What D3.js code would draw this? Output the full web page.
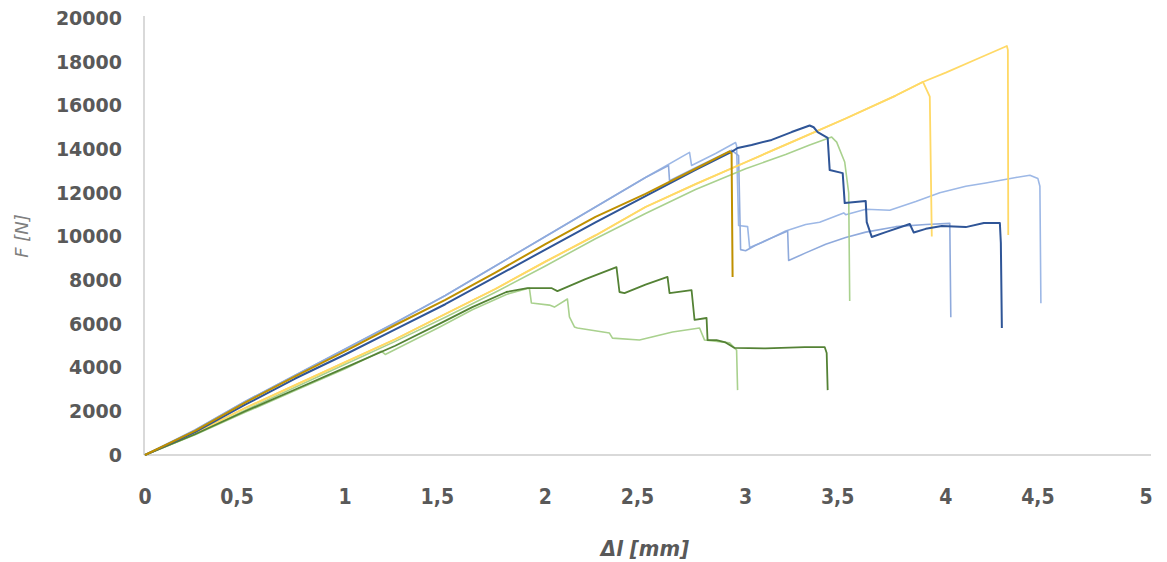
<!DOCTYPE html>
<meta charset="utf-8">
<html>
<script src="https://d3js.org/d3.v7.min.js"></script>
<style>
    body { margin: 0; background: #fff; }
    .ytick { font-family: "DejaVu Sans", sans-serif; font-weight: bold; font-size: 19px; fill: #595959; }
    .xtick { font-family: "Liberation Sans Narrow", "DejaVu Sans Condensed", sans-serif; font-weight: bold; font-size: 21px; fill: #595959; }
</style>
<body>
<div id="chart"></div>
<script>
    // Tick labels
    var xTicks = [0, 0.5, 1, 1.5, 2, 2.5, 3, 3.5, 4, 4.5, 5];
    var yTicks = [0, 2000, 4000, 6000, 8000, 10000, 12000, 14000, 16000, 18000, 20000];

    // Series: [dl in mm, F in N]
    var lightBlue2 = [[0,0],[0.25,1150],[0.5,2450],[0.75,3650],[1.0,4850],[1.25,6050],[1.5,7300],[1.75,8650],[2.0,10000],[2.25,11350],[2.5,12700],[2.72,13850],[2.73,13250],[2.85,13800],[2.95,14300],[2.955,14150],[2.965,10500],[3.01,10450],[3.02,9500],[3.1,9800],[3.2,10250],[3.3,10550],[3.37,10650],[3.49,11080],[3.5,11000],[3.6,11250],[3.72,11200],[3.85,11600],[3.97,12000],[4.1,12300],[4.2,12450],[4.35,12700],[4.42,12800],[4.46,12650],[4.47,12300],[4.475,6950]];
    var lightBlue1 = [[0,0],[0.25,1150],[0.5,2450],[0.75,3650],[1.0,4850],[1.25,6050],[1.5,7300],[1.75,8650],[2.0,10000],[2.25,11350],[2.5,12700],[2.615,13250],[2.62,12550],[2.75,13150],[2.93,13950],[2.965,13700],[2.975,9400],[3.0,9350],[3.05,9600],[3.12,9900],[3.21,10250],[3.215,8900],[3.3,9250],[3.4,9650],[3.5,9950],[3.6,10200],[3.75,10450],[3.9,10550],[4.02,10600],[4.025,6300]];
    var lightGreen2 = [[0,0],[0.25,930],[0.5,1950],[0.75,2950],[1.0,3950],[1.18,4750],[1.2,4600],[1.47,5850],[1.635,6650],[1.805,7350],[1.92,7640],[1.93,6960],[2.02,6860],[2.045,6770],[2.11,7140],[2.12,6320],[2.145,5860],[2.16,5810],[2.32,5580],[2.335,5350],[2.47,5260],[2.635,5630],[2.77,5810],[2.795,5260],[2.92,5130],[2.955,4800],[2.96,2970]];
    var lightGreen1 = [[0,0],[0.25,950],[0.5,2050],[0.75,3100],[1.0,4150],[1.25,5200],[1.5,6300],[1.75,7450],[2.0,8650],[2.25,9900],[2.5,11050],[2.75,12150],[3.0,13100],[3.2,13750],[3.32,14190],[3.43,14550],[3.455,14320],[3.495,13410],[3.515,11990],[3.52,7050]];
    var yellow1 = [[0,0],[0.25,1000],[0.5,2150],[0.75,3200],[1.0,4250],[1.25,5300],[1.5,6450],[1.75,7600],[2.0,8850],[2.25,10050],[2.5,11350],[2.75,12400],[3.0,13400],[3.25,14400],[3.5,15400],[3.75,16450],[3.885,17070],[3.89,17000],[3.92,16400],[3.93,10000]];
    var yellow2 = [[0,0],[0.25,1000],[0.5,2150],[0.75,3200],[1.0,4250],[1.25,5300],[1.5,6450],[1.75,7600],[2.0,8850],[2.25,10050],[2.5,11350],[2.75,12400],[3.0,13400],[3.25,14400],[3.5,15400],[3.75,16450],[3.885,17070],[4.0,17500],[4.15,18100],[4.305,18720],[4.31,18540],[4.312,10070]];
    var darkGreen = [[0,0],[0.25,950],[0.5,2000],[0.75,3000],[1.0,4000],[1.25,5000],[1.47,6000],[1.635,6770],[1.805,7460],[1.91,7640],[2.03,7640],[2.06,7500],[2.2,8050],[2.355,8600],[2.37,7460],[2.395,7410],[2.5,7800],[2.61,8150],[2.62,7410],[2.73,7550],[2.745,6180],[2.805,6270],[2.81,5260],[2.855,5260],[2.9,5150],[2.945,4900],[3.1,4880],[3.295,4940],[3.395,4940],[3.405,4670],[3.41,2970]];
    var darkBlue = [[0,0],[0.25,1050],[0.5,2300],[0.75,3500],[1.0,4600],[1.25,5750],[1.5,6900],[1.75,8150],[2.0,9400],[2.25,10650],[2.5,11850],[2.75,13050],[2.93,13870],[2.96,14050],[3.03,14190],[3.13,14420],[3.23,14780],[3.32,15080],[3.34,15000],[3.36,14780],[3.41,14510],[3.42,13040],[3.485,12900],[3.495,11530],[3.6,11620],[3.605,10660],[3.63,9980],[3.7,10200],[3.82,10570],[3.84,10180],[3.9,10350],[3.98,10480],[4.1,10430],[4.19,10620],[4.27,10620],[4.275,9700],[4.28,5810]];
    var orange = [[0,0],[0.25,1100],[0.5,2400],[0.75,3600],[1.0,4750],[1.25,5950],[1.5,7100],[1.75,8350],[2.0,9650],[2.25,10900],[2.5,11950],[2.75,13100],[2.92,13900],[2.93,13800],[2.935,8150]];

    var series = [
        { data: lightBlue2, color: "#9DB8E6", w: 1.6 },
        { data: lightBlue1, color: "#8FAADC", w: 1.6 },
        { data: lightGreen2, color: "#A9D18E", w: 1.6 },
        { data: lightGreen1, color: "#A9D18E", w: 1.6 },
        { data: yellow1, color: "#FFD966", w: 1.8 },
        { data: yellow2, color: "#FFD966", w: 1.8 },
        { data: darkGreen, color: "#548235", w: 1.8 },
        { data: darkBlue, color: "#2F5597", w: 2 },
        { data: orange, color: "#BF9000", w: 2 }
    ];

    var width = 1167, height = 562;
    var svg = d3.select("#chart").append("svg")
        .attr("width", width)
        .attr("height", height);

    var x = d3.scaleLinear().domain([0, 5]).range([145, 1146]);
    var y = d3.scaleLinear().domain([0, 20000]).range([455, 18]);

    // Axis lines
    svg.append("line")
        .attr("x1", 144).attr("x2", 144)
        .attr("y1", y(20000) - 2).attr("y2", y(0))
        .attr("stroke", "#D9D9D9").attr("stroke-width", 2);
    svg.append("line")
        .attr("x1", 144).attr("x2", 1151)
        .attr("y1", y(0)).attr("y2", y(0))
        .attr("stroke", "#D9D9D9").attr("stroke-width", 2);

    // Y tick labels
    svg.selectAll(".ytick")
        .data(yTicks)
        .enter().append("text")
        .attr("class", "ytick")
        .attr("x", 122)
        .attr("y", function (d) { return y(d); })
        .attr("dy", "0.36em")
        .attr("text-anchor", "end")
        .text(function (d) { return d; });

    // X tick labels (comma as decimal sign)
    svg.selectAll(".xtick")
        .data(xTicks)
        .enter().append("text")
        .attr("class", "xtick")
        .attr("x", function (d) { return x(d) + (d % 1 ? -8 : 0); })
        .attr("y", 504)
        .attr("text-anchor", "middle")
        .text(function (d) { return String(d).replace(".", ","); });

    // Axis titles
    svg.append("text")
        .attr("x", 645).attr("y", 556)
        .attr("text-anchor", "middle")
        .style("font-family", "'Liberation Sans Narrow', 'DejaVu Sans Condensed', sans-serif")
        .style("font-style", "italic")
        .style("font-weight", "bold")
        .style("font-size", "22px")
        .style("fill", "#595959")
        .text("Δl [mm]");
    svg.append("text")
        .attr("transform", "translate(28,236) rotate(-90)")
        .attr("text-anchor", "middle")
        .style("font-family", "'DejaVu Sans', sans-serif")
        .style("font-style", "italic")
        .style("font-size", "18px")
        .style("fill", "#7F7F7F")
        .text("F [N]");

    // Lines
    var line = d3.line()
        .x(function (d) { return x(d[0]); })
        .y(function (d) { return y(d[1]); });

    series.forEach(function (s) {
        svg.append("path")
            .datum(s.data)
            .attr("fill", "none")
            .attr("stroke", s.color)
            .attr("stroke-width", s.w)
            .attr("stroke-linejoin", "round")
            .attr("d", line);
    });
</script>
</body>
</html>
